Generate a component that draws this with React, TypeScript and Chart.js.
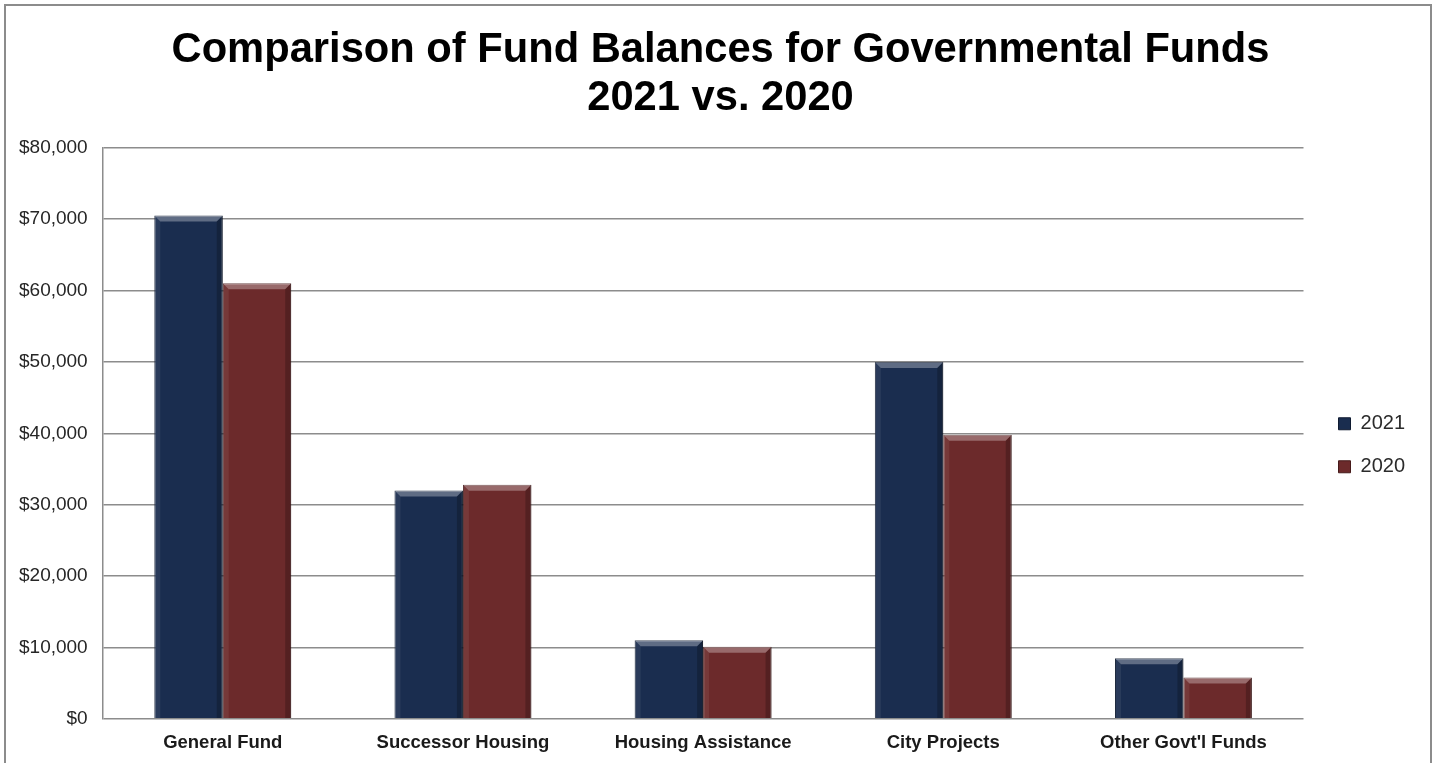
import React, { useEffect, useRef } from 'react';
import { Chart, registerables } from 'chart.js';

Chart.register(...registerables);

const categories = ['General Fund', 'Successor Housing', 'Housing Assistance', 'City Projects', "Other Govt'l Funds"];
const seriesNames = ['2021', '2020'];
const values2021 = [70500, 32000, 11000, 50000, 8500];
const values2020 = [61000, 32800, 10100, 39800, 5800];
const titleLines = ['Comparison of Fund Balances for Governmental Funds', '2021 vs. 2020'];
const yMax = 80000;
const yStep = 10000;

const bevelPlugin = {
  id: 'bevel',
  afterDatasetsDraw(chart: any) {
    const ctx = chart.ctx;
    chart.data.datasets.forEach((_: any, di: number) => {
      const meta = chart.getDatasetMeta(di);
      meta.data.forEach((el: any) => {
        const { x, y, base, width } = el.getProps(['x', 'y', 'base', 'width'], true);
        const l = x - width / 2;
        const r = x + width / 2;
        const t = Math.min(y, base);
        const b = Math.max(y, base);
        const s = 6;
        ctx.save();
        ctx.fillStyle = 'rgba(255,255,255,0.3)';
        ctx.beginPath();
        ctx.moveTo(l, t); ctx.lineTo(r, t); ctx.lineTo(r - s, t + s); ctx.lineTo(l + s, t + s); ctx.closePath();
        ctx.fill();
        ctx.fillStyle = 'rgba(255,255,255,0.07)';
        ctx.beginPath();
        ctx.moveTo(l, t); ctx.lineTo(l + s, t + s); ctx.lineTo(l + s, b); ctx.lineTo(l, b); ctx.closePath();
        ctx.fill();
        ctx.fillStyle = 'rgba(0,0,0,0.22)';
        ctx.beginPath();
        ctx.moveTo(r, t); ctx.lineTo(r - s, t + s); ctx.lineTo(r - s, b); ctx.lineTo(r, b); ctx.closePath();
        ctx.fill();
        ctx.restore();
      });
    });
  },
};

const layoutNudge = {
  id: 'layoutNudge',
  afterLayout(chart: any) {
    const lg = chart.legend;
    if (lg) {
      lg.left += 12; lg.right += 12;
      lg.top += 12; lg.bottom += 12;
    }
    const tb = chart.titleBlock;
    if (tb) {
      tb.left += 17; tb.right += 17;
    }
  },
};

export default function App() {
  const ref = useRef<HTMLCanvasElement>(null);
  useEffect(() => {
    const chart = new Chart(ref.current!, {
      type: 'bar',
      data: {
        labels: categories,
        datasets: [
          {
            label: seriesNames[0],
            data: values2021,
            backgroundColor: '#1a2d4f',
            borderColor: '#0f1b31',
            borderWidth: 1,
            categoryPercentage: 0.57,
            barPercentage: 1.0,
          },
          {
            label: seriesNames[1],
            data: values2020,
            backgroundColor: '#6c2a2b',
            borderColor: '#461a1a',
            borderWidth: 1,
            categoryPercentage: 0.57,
            barPercentage: 1.0,
          },
        ],
      },
      options: {
        responsive: false,
        animation: false,
        devicePixelRatio: 1,
        layout: { padding: { left: 4, right: 34, top: 0, bottom: -4 } },
        plugins: {
          title: {
            display: true,
            text: titleLines,
            color: '#000',
            font: { family: 'Liberation Sans, Arial, sans-serif', size: 41.7, weight: 'bold', lineHeight: 1.16 },
            padding: { top: 26, bottom: 25 },
          },
          legend: {
            position: 'right',
            align: 'center',
            fullSize: false,
            labels: {
              boxWidth: 12,
              boxHeight: 12,
              padding: 23,
              color: '#2b2b2b',
              font: { family: 'Liberation Sans, Arial, sans-serif', size: 20 },
            },
          },
          tooltip: { enabled: false },
        },
        scales: {
          x: {
            grid: { display: false, drawTicks: false },
            border: { display: false },
            ticks: {
              color: '#1a1a1a',
              padding: 13,
              font: { family: 'Liberation Sans, Arial, sans-serif', size: 18.5, weight: 'bold' },
              maxRotation: 0,
              autoSkip: false,
            },
          },
          y: {
            min: 0,
            max: yMax,
            grid: { color: '#8c8c8c', lineWidth: 1.5, drawTicks: false },
            border: { display: true, color: '#8c8c8c', width: 1.5 },
            ticks: {
              stepSize: yStep,
              padding: 15,
              color: '#262626',
              font: { family: 'Liberation Sans, Arial, sans-serif', size: 19 },
              callback: (v: any) => '$' + Number(v).toLocaleString('en-US'),
            },
          },
        },
      },
      plugins: [bevelPlugin, layoutNudge],
    });
    return () => chart.destroy();
  }, []);
  return (
    <div style={{ position: 'fixed', left: 0, top: 0, width: 1437, height: 763, overflow: 'hidden', background: '#fff' }}>
      <div style={{ position: 'absolute', left: 4, top: 4, width: 1428, height: 800, border: '2px solid #8c8c8c', boxSizing: 'border-box' }} />
      <canvas ref={ref} width={1437} height={763} style={{ position: 'absolute', left: 0, top: 0, width: 1437, height: 763 }} />
    </div>
  );
}
